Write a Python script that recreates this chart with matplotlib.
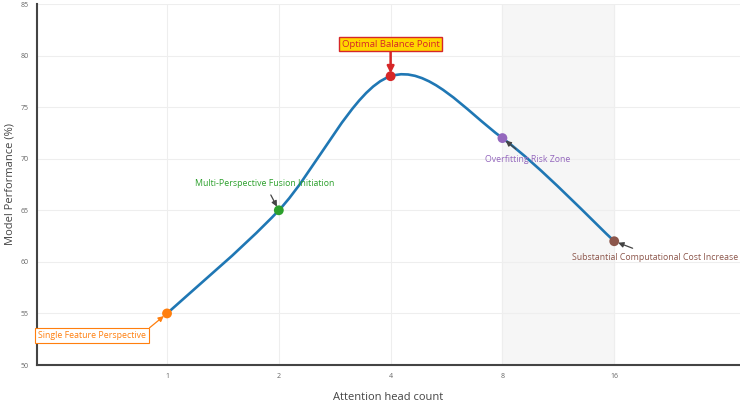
import numpy as np
import matplotlib.pyplot as plt
from matplotlib.path import Path
from matplotlib.patches import PathPatch

plt.rcParams['font.family'] = ['Open Sans', 'DejaVu Sans']

# data
heads = [1, 2, 4, 8, 16]
performance = [55, 65, 78, 72, 62]
point_colors = ['#ff7f0e', '#2ca02c', '#d62728', '#9467bd', '#8c564b']
labels = ['Single Feature Perspective', 'Multi-Perspective Fusion Initiation',
          'Optimal Balance Point', 'Overfitting Risk Zone',
          'Substantial Computational Cost Increase']

pos = np.log2(heads)
pts = np.column_stack([pos, performance])

fig = plt.figure(figsize=(7.4, 4.05), dpi=100)
ax = fig.add_axes([37 / 740, 40 / 405, 703 / 740, 361 / 405])
ax.set_xlim(-1.163, 5.125)
ax.set_ylim(50, 85)

# overfitting zone shading
ax.axvspan(pos[3], pos[4], color='#f6f6f6', zorder=0)

# smooth spline through the points (catmull-rom as bezier segments)
verts = [pts[0]]
codes = [Path.MOVETO]
n = len(pts)
for i in range(n - 1):
    p0 = pts[max(i - 1, 0)]
    p1 = pts[i]
    p2 = pts[i + 1]
    p3 = pts[min(i + 2, n - 1)]
    c1 = p1 + (p2 - p0) / 6
    c2 = p2 - (p3 - p1) / 6
    verts += [c1, c2, p2]
    codes += [Path.CURVE4] * 3
ax.add_patch(PathPatch(Path(verts, codes), fill=False, edgecolor='#1f77b4',
                       lw=1.9, zorder=3))

ax.scatter(pos, performance, s=50, c=point_colors, zorder=4, edgecolors='none')

# annotations
ax.annotate(labels[0], xy=(pos[0], performance[0]), xytext=(-0.67, 52.9),
            ha='center', va='center', fontsize=6.3, color='#ff7f0e',
            bbox=dict(boxstyle='square,pad=0.35', fc='white', ec='#ff7f0e', lw=0.8),
            arrowprops=dict(arrowstyle='-|>', color='#ff7f0e', lw=0.9, relpos=(1, 1),
                            mutation_scale=8, shrinkA=0, shrinkB=3), zorder=5)
ax.annotate(labels[1], xy=(pos[1], performance[1]), xytext=(0.877, 67.55),
            ha='center', va='center', fontsize=6.3, color='#2ca02c',
            arrowprops=dict(arrowstyle='-|>', color='#444444', lw=0.9,
                            mutation_scale=8, shrinkA=3, shrinkB=3), zorder=5)
ax.annotate(labels[2], xy=(pos[2], performance[2]), xytext=(pos[2], 81.12),
            ha='center', va='center', fontsize=6.8, color='#d62728',
            bbox=dict(boxstyle='square,pad=0.3', fc='#ffd700', ec='#d62728', lw=1.0),
            arrowprops=dict(arrowstyle='-|>', color='#d62728', lw=1.8,
                            mutation_scale=10, shrinkA=0, shrinkB=2), zorder=5)
ax.annotate(labels[3], xy=(pos[3], performance[3]), xytext=(3.23, 69.97),
            ha='center', va='center', fontsize=6.3, color='#9467bd',
            arrowprops=dict(arrowstyle='-|>', color='#444444', lw=0.9,
                            mutation_scale=8, shrinkA=3, shrinkB=3), zorder=5)
ax.annotate(labels[4], xy=(pos[4], performance[4]), xytext=(4.37, 60.47),
            ha='center', va='center', fontsize=6.3, color='#8c564b',
            arrowprops=dict(arrowstyle='-|>', color='#444444', lw=0.9,
                            mutation_scale=8, shrinkA=3, shrinkB=3), zorder=5)

# axes styling
ax.set_xticks(pos)
ax.set_xticklabels([str(h) for h in heads])
ax.set_yticks(range(50, 86, 5))
ax.grid(True, color='#eeeeee', lw=0.8, zorder=1)
ax.set_axisbelow(True)
for s in ['top', 'right']:
    ax.spines[s].set_visible(False)
for s in ['left', 'bottom']:
    ax.spines[s].set_color('#444444')
    ax.spines[s].set_linewidth(1.5)
ax.tick_params(length=0, labelsize=5, labelcolor='#666666', pad=6)

fig.text(388 / 740, 1 - 398 / 405, 'Attention head count', fontsize=8,
         color='#444444', ha='center', va='center')
fig.text(10 / 740, 1 - 184 / 405, 'Model Performance (%)', fontsize=8,
         color='#444444', ha='center', va='center', rotation=90)

fig.savefig('out.png', dpi=100)
